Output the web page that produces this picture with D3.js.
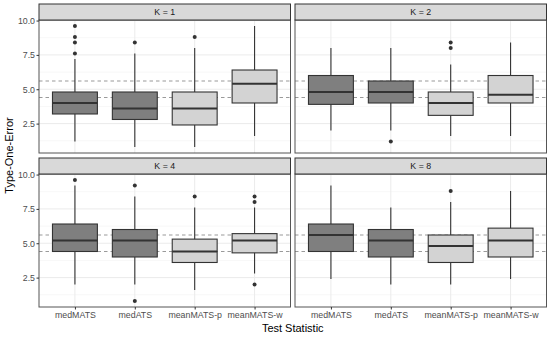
<!DOCTYPE html>
<html>
<head>
<meta charset="utf-8">
<script src="https://cdn.jsdelivr.net/npm/d3@7"></script>
<style>
  body { margin: 0; background: #fff; }
  text { font-family: "Liberation Sans", Arial, sans-serif; }
</style>
</head>
<body>
<div id="chart"></div>
<script>
// chart values
const categories = ["medMATS", "medATS", "meanMATS-p", "meanMATS-w"];
const panelLabels = ["K = 1", "K = 2", "K = 4", "K = 8"];

const lowerWhisker = [[1.2, 0.8, 0.8, 1.6], [2.0, 2.0, 1.6, 1.6], [2.0, 2.0, 1.6, 2.8], [2.4, 2.0, 2.0, 2.4]];
const lowerHinge   = [[3.2, 2.8, 2.4, 4.0], [3.9, 4.0, 3.1, 4.0], [4.4, 4.0, 3.6, 4.3], [4.4, 4.0, 3.6, 4.0]];
const medians      = [[4.0, 3.6, 3.6, 5.4], [4.8, 4.8, 4.0, 4.6], [5.2, 5.2, 4.4, 5.2], [5.6, 5.2, 4.8, 5.2]];
const upperHinge   = [[4.8, 4.8, 4.8, 6.4], [6.0, 5.6, 4.8, 6.0], [6.4, 6.0, 5.3, 5.7], [6.4, 6.0, 5.6, 6.1]];
const upperWhisker = [[7.2, 7.6, 8.0, 9.6], [8.0, 8.0, 6.8, 8.4], [9.2, 8.4, 7.6, 7.6], [9.2, 7.6, 8.0, 8.8]];
const outliers = [
  [[9.6, 8.8, 8.4, 7.6], [8.4], [8.8], []],
  [[], [1.2], [8.4, 8.0], []],
  [[9.6], [9.2, 0.8], [8.4], [8.4, 8.0, 2.0]],
  [[], [], [8.8], []]
];
const refLines = [4.4, 5.6];
const yTicks = [2.5, 5.0, 7.5, 10.0];
const yMinorTicks = [1.25, 3.75, 6.25, 8.75];

// layout
const width = 551;
const height = 338;
const panelLeft = [39, 295];
const panelTop = [20, 174];
const panelW = 251.5;
const panelH = 133;
const stripH = 16;

const svg = d3.select("#chart").append("svg")
  .attr("width", width)
  .attr("height", height);

const x = d3.scalePoint()
  .domain(categories)
  .range([0, panelW])
  .padding(0.6);

const y = d3.scaleLinear()
  .domain([0.36, 10.04])
  .range([panelH, 0]);

const boxW = x.step() * 0.75;
const boxFill = ["#7f7f7f", "#7f7f7f", "#d3d3d3", "#d3d3d3"];

panelLabels.forEach((label, p) => {
  const col = p % 2;
  const row = Math.floor(p / 2);
  const g = svg.append("g")
    .attr("transform", `translate(${panelLeft[col]}, ${panelTop[row]})`);

  // background grid
  g.selectAll(".minor").data(yMinorTicks).enter().append("line")
    .attr("x1", 0).attr("x2", panelW)
    .attr("y1", d => y(d)).attr("y2", d => y(d))
    .attr("stroke", "#f1f1f1").attr("stroke-width", 0.6);
  g.selectAll(".major").data(yTicks).enter().append("line")
    .attr("x1", 0).attr("x2", panelW)
    .attr("y1", d => y(d)).attr("y2", d => y(d))
    .attr("stroke", "#ebebeb").attr("stroke-width", 1);
  g.selectAll(".vmajor").data(categories).enter().append("line")
    .attr("x1", d => x(d)).attr("x2", d => x(d))
    .attr("y1", 0).attr("y2", panelH)
    .attr("stroke", "#ebebeb").attr("stroke-width", 1);

  // reference lines (behind the boxes)
  g.selectAll(".ref").data(refLines).enter().append("line")
    .attr("x1", 0).attr("x2", panelW)
    .attr("y1", d => y(d)).attr("y2", d => y(d))
    .attr("stroke", "#9a9a9a").attr("stroke-width", 1.1)
    .attr("stroke-dasharray", "3.5,3");

  // boxes
  categories.forEach((c, i) => {
    const cx = x(c);
    g.append("line")
      .attr("x1", cx).attr("x2", cx)
      .attr("y1", y(upperWhisker[p][i])).attr("y2", y(lowerWhisker[p][i]))
      .attr("stroke", "#333").attr("stroke-width", 1.1);
    g.append("rect")
      .attr("x", cx - boxW / 2)
      .attr("width", boxW)
      .attr("y", y(upperHinge[p][i]))
      .attr("height", y(lowerHinge[p][i]) - y(upperHinge[p][i]))
      .attr("fill", boxFill[i])
      .attr("stroke", "#333").attr("stroke-width", 1.1);
    g.append("line")
      .attr("x1", cx - boxW / 2).attr("x2", cx + boxW / 2)
      .attr("y1", y(medians[p][i])).attr("y2", y(medians[p][i]))
      .attr("stroke", "#333").attr("stroke-width", 2.1);
    g.selectAll(null).data(outliers[p][i]).enter().append("circle")
      .attr("cx", cx).attr("cy", d => y(d)).attr("r", 2)
      .attr("fill", "#333");
  });

  // border
  g.append("rect")
    .attr("width", panelW).attr("height", panelH)
    .attr("fill", "none").attr("stroke", "#555").attr("stroke-width", 1);

  // strip
  g.append("rect")
    .attr("y", -stripH).attr("width", panelW).attr("height", stripH)
    .attr("fill", "#d9d9d9").attr("stroke", "#333").attr("stroke-width", 1);
  g.append("text")
    .attr("x", panelW / 2).attr("y", -stripH / 2)
    .attr("dy", "0.35em")
    .attr("text-anchor", "middle")
    .attr("font-size", 8.8)
    .attr("fill", "#1a1a1a")
    .text(label);

  // axes
  if (col === 0) {
    const yAxis = g.append("g")
      .call(d3.axisLeft(y).tickValues(yTicks).tickFormat(d3.format(".1f")).tickSize(2.5));
    yAxis.select(".domain").remove();
    yAxis.selectAll(".tick line").attr("stroke", "#333");
    yAxis.selectAll(".tick text")
      .attr("fill", "#4d4d4d").attr("font-size", 8.8).attr("x", -4)
      .style("font-family", "Liberation Sans, Arial, sans-serif");
  }
  if (row === 1) {
    const xAxis = g.append("g")
      .attr("transform", `translate(0, ${panelH})`)
      .call(d3.axisBottom(x).tickSize(2.5));
    xAxis.select(".domain").remove();
    xAxis.selectAll(".tick line").attr("stroke", "#333");
    xAxis.selectAll(".tick text")
      .attr("fill", "#4d4d4d").attr("font-size", 8.8).attr("y", 4.5)
      .style("font-family", "Liberation Sans, Arial, sans-serif");
  }
});

// axis titles
svg.append("text")
  .attr("x", (panelLeft[0] + panelLeft[1] + panelW) / 2)
  .attr("y", 332)
  .attr("text-anchor", "middle")
  .attr("font-size", 11)
  .attr("fill", "#000")
  .text("Test Statistic");

svg.append("text")
  .attr("transform", `translate(13, ${(panelTop[0] - stripH + panelTop[1] + panelH) / 2}) rotate(-90)`)
  .attr("text-anchor", "middle")
  .attr("font-size", 11)
  .attr("fill", "#000")
  .text("Type-One-Error");
</script>
</body>
</html>
